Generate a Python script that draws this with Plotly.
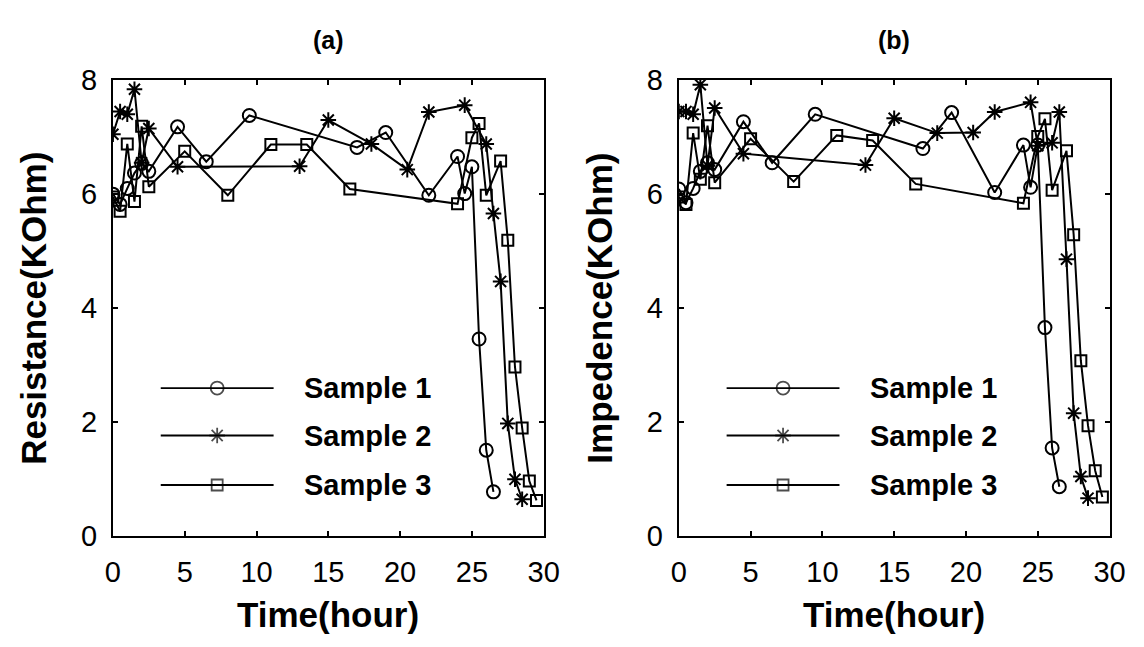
import plotly.graph_objects as go

# ---------------- data ----------------
# Panel (a): Resistance (KOhm) vs Time (hour)
a_s1_t = [0, 0.5, 1.0, 1.5, 2.0, 2.5, 4.5, 6.5, 9.5, 17, 19, 22, 24, 24.5, 25, 25.5, 26, 26.5]
a_s1_v = [6.0, 5.82, 6.1, 6.37, 6.54, 6.4, 7.18, 6.57, 7.38, 6.82, 7.08, 5.98, 6.66, 6.01, 6.48, 3.46, 1.51, 0.78]

a_s2_t = [0, 0.5, 1.0, 1.5, 2.0, 2.5, 4.5, 13, 15, 18, 20.5, 22, 24.5, 26, 26.5, 27, 27.5, 28, 28.5]
a_s2_v = [7.05, 7.45, 7.4, 7.84, 6.55, 7.15, 6.48, 6.49, 7.3, 6.88, 6.43, 7.44, 7.56, 6.88, 5.66, 4.47, 1.98, 1.0, 0.65]

a_s3_t = [0, 0.5, 1.0, 1.5, 2.0, 2.5, 5, 8, 11, 13.5, 16.5, 24, 25, 25.5, 26, 27, 27.5, 28, 28.5, 29, 29.5]
a_s3_v = [5.95, 5.7, 6.88, 5.87, 7.19, 6.13, 6.75, 5.98, 6.87, 6.87, 6.09, 5.83, 6.99, 7.24, 5.98, 6.58, 5.19, 2.97, 1.9, 0.97, 0.63]

# Panel (b): Impedence (KOhm) vs Time (hour)
b_s1_t = [0, 0.5, 1.0, 1.5, 2.0, 2.5, 4.5, 6.5, 9.5, 17, 19, 22, 24, 24.5, 25, 25.5, 26, 26.5]
b_s1_v = [6.09, 5.85, 6.1, 6.4, 6.55, 6.43, 7.27, 6.55, 7.4, 6.8, 7.43, 6.03, 6.86, 6.12, 6.86, 3.66, 1.55, 0.87]

b_s2_t = [0, 0.5, 1.0, 1.5, 2.0, 2.5, 4.5, 13, 15, 18, 20.5, 22, 24.5, 25, 26, 26.5, 27, 27.5, 28, 28.5]
b_s2_v = [7.45, 7.45, 7.4, 7.92, 6.5, 7.51, 6.71, 6.51, 7.33, 7.07, 7.08, 7.44, 7.61, 6.85, 6.9, 7.44, 4.86, 2.16, 1.05, 0.67]

b_s3_t = [0, 0.5, 1.0, 1.5, 2.0, 2.5, 5, 8, 11, 13.5, 16.5, 24, 25, 25.5, 26, 27, 27.5, 28, 28.5, 29, 29.5]
b_s3_v = [5.95, 5.82, 7.07, 6.26, 7.2, 6.2, 6.97, 6.22, 7.03, 6.94, 6.18, 5.84, 7.01, 7.32, 6.07, 6.76, 5.29, 3.08, 1.94, 1.15, 0.69]

series_names = ["Sample 1", "Sample 2", "Sample 3"]
x_ticks = [0, 5, 10, 15, 20, 25, 30]
y_ticks = [0, 2, 4, 6, 8]
panel_titles = ["(a)", "(b)"]
y_titles = ["Resistance(KOhm)", "Impedence(KOhm)"]
x_title = "Time(hour)"

# ---------------- style ----------------
FONT = "Liberation Sans, Arial, Helvetica, sans-serif"
W, H = 1144, 647
PX = [(99, 539), (677, 1117)]   # plot area left/right in px
PY = (59, 539)                  # plot area top/bottom in px

symbols = ["circle-open", "asterisk-open", "square-open"]
msizes = [13, 13, 11]
LW = 2.0

fig = go.Figure()

panels = [
    ([a_s1_t, a_s2_t, a_s3_t], [a_s1_v, a_s2_v, a_s3_v]),
    ([b_s1_t, b_s2_t, b_s3_t], [b_s1_v, b_s2_v, b_s3_v]),
]

for p, (ts, vs) in enumerate(panels):
    xa = "x" if p == 0 else "x2"
    ya = "y" if p == 0 else "y2"
    for i in range(3):
        fig.add_trace(go.Scatter(
            x=ts[i], y=vs[i], mode="lines+markers", name=series_names[i],
            xaxis=xa, yaxis=ya, showlegend=False,
            line=dict(color="black", width=LW),
            marker=dict(symbol=symbols[i], size=msizes[i], color="black",
                        line=dict(color="black", width=LW)),
        ))

# custom legends (long key lines like the original), drawn on helper overlay axes
leg_rows = [0.325, 0.221, 0.1125]
for p in range(2):
    xa = "x3" if p == 0 else "x4"
    ya = "y3" if p == 0 else "y4"
    for i in range(3):
        fig.add_trace(go.Scatter(
            x=[0.111, 0.242, 0.373], y=[leg_rows[i]] * 3, mode="lines+markers",
            xaxis=xa, yaxis=ya, showlegend=False, hoverinfo="skip",
            line=dict(color="black", width=1.8),
            marker=dict(symbol=symbols[i], size=[0, msizes[i], 0], color="black",
                        line=dict(color="black", width=1.8)),
        ))
        fig.add_annotation(x=0.44, y=leg_rows[i], xref=xa, yref=ya,
                           text="<b>%s</b>" % series_names[i], showarrow=False,
                           xanchor="left", yanchor="middle",
                           font=dict(family=FONT, size=29, color="black"))

ydom = [1 - PY[1] / H, 1 - PY[0] / H]
axis_common = dict(showline=True, linecolor="black", linewidth=2, mirror="ticks",
                   ticks="inside", ticklen=5, tickwidth=1.5, tickcolor="black",
                   showgrid=False, zeroline=False,
                   tickfont=dict(family=FONT, size=29, color="black"))

layout = dict(
    width=W, height=H, paper_bgcolor="white", plot_bgcolor="white",
    margin=dict(l=0, r=0, t=0, b=0), showlegend=False,
    font=dict(family=FONT, color="black"),
)
for p in range(2):
    xd = [PX[p][0] / W, PX[p][1] / W]
    sfx = "" if p == 0 else "2"
    layout["xaxis" + sfx] = dict(domain=xd, range=[0, 30], tickvals=x_ticks,
                                 anchor="y" + sfx, ticklabelstandoff=9, **axis_common)
    layout["yaxis" + sfx] = dict(domain=ydom, range=[0, 8], tickvals=y_ticks,
                                 anchor="x" + sfx, ticklabelstandoff=8, **axis_common)
    lx = "3" if p == 0 else "4"
    main_x = "x" if p == 0 else "x2"
    main_y = "y" if p == 0 else "y2"
    layout["xaxis" + lx] = dict(overlaying=main_x, range=[0, 1], visible=False,
                                anchor="y" + lx)
    layout["yaxis" + lx] = dict(overlaying=main_y, range=[0, 1], visible=False,
                                anchor="x" + lx)

fig.update_layout(**layout)

for p in range(2):
    cx = (PX[p][0] + PX[p][1]) / 2 / W
    fig.add_annotation(x=cx, y=1 - 17 / H, xref="paper", yref="paper",
                       text="<b>%s</b>" % panel_titles[p], showarrow=False,
                       xanchor="center", yanchor="middle",
                       font=dict(family=FONT, size=25, color="black"))
    fig.add_annotation(x=cx, y=1 - 621 / H, xref="paper", yref="paper",
                       text="<b>%s</b>" % x_title, showarrow=False,
                       xanchor="center", yanchor="middle",
                       font=dict(family=FONT, size=35, color="black"))
    fig.add_annotation(x=(PX[p][0] - 81) / W, y=(ydom[0] + ydom[1]) / 2,
                       xref="paper", yref="paper", textangle=-90,
                       text="<b>%s</b>" % y_titles[p], showarrow=False,
                       xanchor="center", yanchor="middle",
                       font=dict(family=FONT, size=35, color="black"))

fig.write_html("out.html")
